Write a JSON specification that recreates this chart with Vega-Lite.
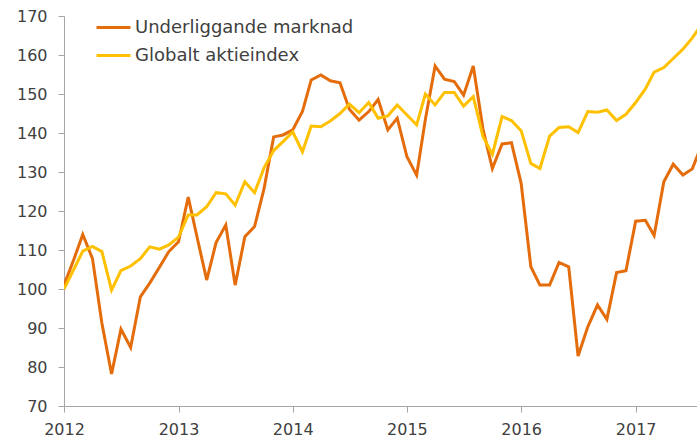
{
  "$schema": "https://vega.github.io/schema/vega-lite/v6.json",
  "width": 633,
  "height": 390,
  "autosize": {"type": "none"},
  "padding": {"left": 64, "top": 16, "right": 0, "bottom": 32},
  "background": "white",
  "config": {
    "view": {"stroke": null},
    "font": "DejaVu Sans",
    "axis": {
      "grid": false,
      "labelOverlap": false,
      "labelFlush": false,
      "domainColor": "#A6A6A6",
      "tickColor": "#A6A6A6",
      "ticks": true,
      "tickSize": 6,
      "labelFontSize": 16,
      "labelColor": "#404040"
    }
  },
  "data": {
    "format": {"parse": {"d": "date:'%Y-%m'"}},
    "values": [
      {"d": "2012-01", "u": 101, "g": 100},
      {"d": "2012-02", "u": 107.5, "g": 105},
      {"d": "2012-03", "u": 114, "g": 109.7},
      {"d": "2012-04", "u": 107.8, "g": 110.9},
      {"d": "2012-05", "u": 91.3, "g": 109.6},
      {"d": "2012-06", "u": 78.2, "g": 99.7},
      {"d": "2012-07", "u": 89.7, "g": 104.7},
      {"d": "2012-08", "u": 85, "g": 105.9},
      {"d": "2012-09", "u": 98, "g": 107.8},
      {"d": "2012-10", "u": 101.5, "g": 110.8},
      {"d": "2012-11", "u": 105.6, "g": 110.2},
      {"d": "2012-12", "u": 109.6, "g": 111.3},
      {"d": "2013-01", "u": 112.1, "g": 113.3},
      {"d": "2013-02", "u": 123.6, "g": 119},
      {"d": "2013-03", "u": 113.4, "g": 119},
      {"d": "2013-04", "u": 102.3, "g": 121.1},
      {"d": "2013-05", "u": 111.9, "g": 124.7},
      {"d": "2013-06", "u": 116.4, "g": 124.4},
      {"d": "2013-07", "u": 101, "g": 121.5},
      {"d": "2013-08", "u": 113.4, "g": 127.5},
      {"d": "2013-09", "u": 116, "g": 124.7},
      {"d": "2013-10", "u": 125.6, "g": 131},
      {"d": "2013-11", "u": 139, "g": 135.5},
      {"d": "2013-12", "u": 139.5, "g": 137.8},
      {"d": "2014-01", "u": 140.8, "g": 140.3},
      {"d": "2014-02", "u": 145.5, "g": 135.2},
      {"d": "2014-03", "u": 153.6, "g": 141.8},
      {"d": "2014-04", "u": 154.9, "g": 141.6},
      {"d": "2014-05", "u": 153.4, "g": 143.1},
      {"d": "2014-06", "u": 152.9, "g": 145},
      {"d": "2014-07", "u": 146.1, "g": 147.4},
      {"d": "2014-08", "u": 143.3, "g": 145.2},
      {"d": "2014-09", "u": 145.5, "g": 147.8},
      {"d": "2014-10", "u": 148.6, "g": 143.8},
      {"d": "2014-11", "u": 140.8, "g": 144.4},
      {"d": "2014-12", "u": 143.8, "g": 147.2},
      {"d": "2015-01", "u": 133.9, "g": 144.6},
      {"d": "2015-02", "u": 129.2, "g": 142.1},
      {"d": "2015-03", "u": 143.5, "g": 150},
      {"d": "2015-04", "u": 157.2, "g": 147.2},
      {"d": "2015-05", "u": 153.8, "g": 150.4},
      {"d": "2015-06", "u": 153.2, "g": 150.4},
      {"d": "2015-07", "u": 149.7, "g": 146.9},
      {"d": "2015-08", "u": 157.2, "g": 149.3},
      {"d": "2015-09", "u": 141, "g": 139.1},
      {"d": "2015-10", "u": 130.9, "g": 134.5},
      {"d": "2015-11", "u": 137.2, "g": 144.2},
      {"d": "2015-12", "u": 137.5, "g": 143.2},
      {"d": "2016-01", "u": 127.1, "g": 140.6},
      {"d": "2016-02", "u": 105.7, "g": 132.2},
      {"d": "2016-03", "u": 101, "g": 130.9},
      {"d": "2016-04", "u": 101, "g": 139.2},
      {"d": "2016-05", "u": 106.8, "g": 141.4},
      {"d": "2016-06", "u": 105.7, "g": 141.6},
      {"d": "2016-07", "u": 82.8, "g": 140.1},
      {"d": "2016-08", "u": 90.3, "g": 145.5},
      {"d": "2016-09", "u": 95.9, "g": 145.3},
      {"d": "2016-10", "u": 92.2, "g": 145.9},
      {"d": "2016-11", "u": 104.2, "g": 143.2},
      {"d": "2016-12", "u": 104.7, "g": 144.8},
      {"d": "2017-01", "u": 117.4, "g": 147.8},
      {"d": "2017-02", "u": 117.6, "g": 151.3},
      {"d": "2017-03", "u": 113.7, "g": 155.6},
      {"d": "2017-04", "u": 127.5, "g": 156.8},
      {"d": "2017-05", "u": 132, "g": 159.1},
      {"d": "2017-06", "u": 129.2, "g": 161.5},
      {"d": "2017-07", "u": 130.8, "g": 164.4},
      {"d": "2017-08", "u": 137.2, "g": 168}
    ]
  },
  "encoding": {
    "x": {
      "field": "d",
      "type": "temporal",
      "scale": {"domain": [{"year": 2012, "month": 1, "date": 1}, {"year": 2017, "month": 7, "date": 16}]},
      "axis": {
        "title": null,
        "format": "%Y",
        "tickCount": {"interval": "year", "step": 1},
        "labelPadding": 9
      }
    }
  },
  "layer": [
    {
      "mark": {"type": "line", "strokeWidth": 3, "clip": true},
      "encoding": {
        "y": {
          "field": "u",
          "type": "quantitative",
          "scale": {"domain": [70, 170], "nice": false},
          "axis": {
            "title": null,
            "values": [70, 80, 90, 100, 110, 120, 130, 140, 150, 160, 170],
            "labelOverlap": false,
            "labelPadding": 11
          }
        },
        "color": {
          "datum": "Underliggande marknad",
          "type": "nominal",
          "scale": {"domain": ["Underliggande marknad", "Globalt aktieindex"], "range": ["#E46C0A", "#FFC000"]},
          "legend": {
            "title": null,
            "orient": "none",
            "legendX": 31,
            "legendY": -7,
            "padding": 0,
            "symbolType": "stroke",
            "symbolStrokeWidth": 3,
            "symbolSize": 1156,
            "labelFontSize": 18,
            "labelLimit": 0,
            "labelColor": "#404040",
            "labelOffset": 3,
            "rowPadding": -4
          }
        }
      }
    },
    {
      "mark": {"type": "line", "strokeWidth": 3, "clip": true},
      "encoding": {
        "y": {
          "field": "g",
          "type": "quantitative",
          "axis": {
            "title": null,
            "values": [70, 80, 90, 100, 110, 120, 130, 140, 150, 160, 170],
            "labelOverlap": false,
            "labelPadding": 11
          }
        },
        "color": {"datum": "Globalt aktieindex", "type": "nominal"}
      }
    }
  ]
}
